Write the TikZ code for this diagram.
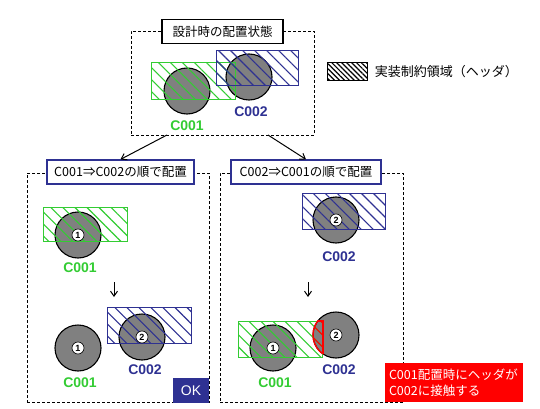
\documentclass[tikz,border=0pt]{standalone}
\usepackage{fontspec}
\setmainfont{Liberation Sans}
\newfontfamily\jp{Noto Sans CJK JP}
\usetikzlibrary{patterns.meta,arrows.meta,positioning}
\definecolor{cgreen}{RGB}{51,204,51}
\definecolor{cblue}{RGB}{46,49,146}
\definecolor{cgray}{RGB}{128,128,128}
\definecolor{cred}{RGB}{255,0,0}
\tikzstyle{frame}=[draw, rectangle, dash pattern = on 3pt off 2pt, line width = 0.7pt]
\tikzstyle{title}=[draw, rectangle, fill = white, line width = 1.2pt, minimum height = 24pt,
                   inner sep = 2pt, font = \jp\fontsize{12.5}{13}\selectfont]
\tikzstyle{part}=[circle, draw, fill = cgray, line width = 1.1pt, minimum size = 46pt, inner sep = 0pt]
\tikzstyle{hdr}=[rectangle, draw, line width = 1pt, minimum width = 84pt, minimum height = 36pt, inner sep = 0pt]
\tikzstyle{hdrA}=[hdr, draw = cgreen, pattern color = cgreen,
                  pattern = {Lines[angle = -45, distance = 8.5pt, line width = 1.1pt]}]
\tikzstyle{hdrB}=[hdr, draw = cblue, pattern color = cblue,
                  pattern = {Lines[angle = -45, distance = 8.5pt, line width = 1.1pt]}]
\tikzstyle{num}=[circle, draw, fill = white, inner sep = 0pt, minimum size = 12pt, line width = 0.6pt,
                 font = \bfseries\fontsize{9}{9}\selectfont]
\tikzstyle{lblA}=[text = cgreen, inner sep = 0pt, font = \bfseries\fontsize{14}{14}\selectfont]
\tikzstyle{lblB}=[text = cblue, inner sep = 0pt, font = \bfseries\fontsize{14}{14}\selectfont]
\tikzstyle{flow}=[-{Straight Barb[length = 5pt, width = 7pt]}, line width = 1pt]

\begin{document}
\begin{tikzpicture}[x = 1pt, y = -1pt]
  \useasboundingbox (0,0) rectangle (540,409);
  % design state
  \node[frame, minimum width = 183pt, minimum height = 104pt] (fTop) at (222.5,83) {};
  \node[part] (a1) at (187,91) {};
  \node[part] (a2) at (249,77) {};
  \node[hdrA, minimum height = 37pt] (ha1) at (193,81.5) {};
  \node[hdrB, minimum width = 82pt, minimum height = 35pt] (ha2) at (257,68.5) {};
  \node[lblA] (la1) at (187,126) {C001};
  \node[lblB] (la2) at (251,112) {C002};
  \node[title, minimum width = 121pt] (tTop) at (222.5,31.5) {設計時の配置状態};
  % legend
  \node[draw, line width = 1pt, minimum width = 40pt, minimum height = 18pt,
	pattern = {Lines[angle = -45, distance = 3.5pt, line width = 1.2pt]}] (key) at (347,72) {};
  \node[right = 7pt of key, inner sep = 0pt, font = \jp\fontsize{13}{13}\selectfont]
	(keytext) {実装制約領域（ヘッダ）};

  % C001 first
  \node[frame, minimum width = 182pt, minimum height = 229pt] (fL) at (118,287.5) {};
  \node[part] (b1) at (78,235) {};
  \node[hdrA, minimum height = 34pt] (hb1) at (85,224) {};
  \node[num] (nb1) at (b1) {1};
  \node[lblA] (lb1) at (80,268) {C001};
  \coordinate (dL1) at (114,282);
  \coordinate (dL2) at (114,297);
  \draw[flow] (dL1)--(dL2);
  \node[part] (c1) at (78,348) {};
  \node[num] (nc1) at (c1) {1};
  \node[lblA] (lc1) at (80,383) {C001};
  \node[part] (c2) at (142,337) {};
  \node[hdrB] (hc2) at (149,325) {};
  \node[num] (nc2) at (c2) {2};
  \node[lblB] (lc2) at (145,370) {C002};
  \node[fill = cblue, text = white, minimum width = 36pt, minimum height = 25pt,
	font = \fontsize{14}{14}\selectfont] (ok) at (191,390.5) {OK};
  \node[title, draw = cblue, minimum width = 147pt] (tL) at (120.5,172) {C001⇒C002の順で配置};

  % C002 first
  \node[frame, minimum width = 183pt, minimum height = 229pt] (fR) at (311.5,287.5) {};
  \node[part] (d2) at (336,220) {};
  \node[hdrB, minimum width = 83pt] (hd2) at (343.5,211) {};
  \node[num] (nd2) at (d2) {2};
  \node[lblB] (ld2) at (339,257) {C002};
  \coordinate (dR1) at (308,282);
  \coordinate (dR2) at (308,297);
  \draw[flow] (dR1)--(dR2);
  \node[part] (e1) at (273,348) {};
  \node[part] (e2) at (336,335) {};
  \node[hdrA] (he1) at (280,339) {};
  \begin{scope}
    \clip (e2.center) circle (23);
    \fill[pattern = {Lines[angle = -45, distance = 8.5pt, line width = 1.1pt]}, pattern color = cred]
	(he1.south west) rectangle (he1.north east);
    \draw[cred, line width = 2pt] (he1.south west) rectangle (he1.north east);
  \end{scope}
  \begin{scope}
    \clip (he1.south west) rectangle (he1.north east);
    \draw[cred, line width = 1.4pt] (e2.center) circle (23);
  \end{scope}
  \node[num] (ne1) at (e1) {1};
  \node[num] (ne2) at (e2) {2};
  \node[lblA] (le1) at (275,383) {C001};
  \node[lblB] (le2) at (339,370) {C002};
  \node[fill = cred, text = white, text width = 130pt, inner sep = 4pt, align = left,
	minimum height = 39pt, font = \jp\fontsize{12.5}{16}\selectfont]
	(msg) at (454,382.5) {C001配置時にヘッダが\\C002に接触する};
  \node[title, draw = cblue, minimum width = 150pt] (tR) at (306,172) {C002⇒C001の順で配置};

  \coordinate (outL) at (167,135);
  \coordinate (outR) at (268,135);
  \draw[flow] (outL)--(tL.north);
  \draw[flow] (outR)--(tR.north);
\end{tikzpicture}
\end{document}
